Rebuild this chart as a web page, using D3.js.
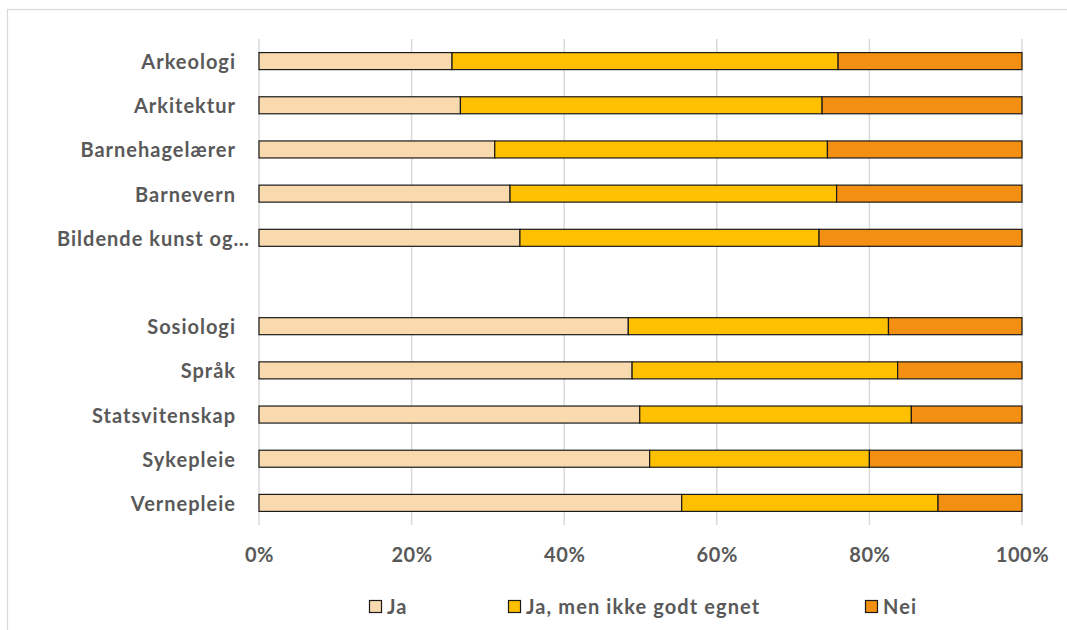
<!DOCTYPE html>
<html>
<head>
<meta charset="utf-8">
<script src="https://cdn.jsdelivr.net/npm/d3@7"></script>
<style>
  html, body { margin: 0; padding: 0; background: #fff; }
  svg { display: block; }
  text { font-family: Lato, "Open Sans", sans-serif; font-weight: 700; fill: #595959; }
</style>
</head>
<body>
<svg id="chart" width="1067" height="630"></svg>
<script>
// Data (percent), "" is the visual gap between groups
const categories = ["Arkeologi", "Arkitektur", "Barnehagelærer", "Barnevern", "Bildende kunst og…", "", "Sosiologi", "Språk", "Statsvitenskap", "Sykepleie", "Vernepleie"];
const seriesNames = ["Ja", "Ja, men ikke godt egnet", "Nei"];
const ja    = [25.3, 26.4, 30.9, 32.9, 34.2, null, 48.4, 48.9, 49.9, 51.2, 55.4];
const jaMen = [50.6, 47.4, 43.6, 42.8, 39.2, null, 34.1, 34.8, 35.6, 28.8, 33.6];
const nei   = [24.1, 26.2, 25.5, 24.3, 26.6, null, 17.5, 16.3, 14.5, 20.0, 11.0];
const xTicks = [0, 20, 40, 60, 80, 100];
const colors = ["#F9DAAE", "#FFC000", "#F38F12"];

const svg = d3.select("#chart");
const mLeft = 259, mRight = 1022, mTop = 39, mBottom = 525;

// chart frame (extends beyond canvas on right/bottom)
svg.append("rect").attr("x", 7.5).attr("y", 9.5).attr("width", 1100).attr("height", 700)
  .attr("fill", "none").attr("stroke", "#d9d9d9").attr("stroke-width", 1.2);

const keys = categories.map((c, i) => "k" + i);
const x = d3.scaleLinear().domain([0, 100]).range([mLeft, mRight]);
const y = d3.scaleBand().domain(keys).range([mTop, mBottom]).paddingInner(0.615).paddingOuter(0.3075);

// gridlines
svg.append("g").selectAll("line").data(xTicks).join("line")
  .attr("x1", d => x(d)).attr("x2", d => x(d))
  .attr("y1", mTop).attr("y2", mBottom)
  .attr("stroke", "#d9d9d9").attr("stroke-width", 1.5);

// x axis labels
const xAxis = d3.axisBottom(x).tickValues(xTicks).tickSize(0).tickPadding(0).tickFormat(d => d + "%");
const gx = svg.append("g").attr("transform", `translate(0,${mBottom + 23})`).call(xAxis);
gx.select(".domain").remove();
gx.selectAll("text").attr("font-size", 20).attr("dy", "0.71em").attr("fill", "#595959")
  .style("font-family", "Lato, sans-serif").style("font-weight", 700).style("letter-spacing", "0.6px");

// y axis labels
const yAxis = d3.axisLeft(y).tickSize(0).tickPadding(0).tickFormat((k, i) => categories[i]);
const gy = svg.append("g").attr("transform", `translate(${mLeft - 23},0)`).call(yAxis);
gy.select(".domain").remove();
gy.selectAll("text").attr("font-size", 20).attr("fill", "#595959").attr("dy", "0.4em")
  .style("font-family", "Lato, sans-serif").style("font-weight", 700).style("letter-spacing", "1px")
  .attr("x", (k, i) => categories[i].endsWith("…") ? 14 : 0);

// stacked bars
const rows = categories.map((c, i) => ({ key: keys[i], ja: ja[i], jaMen: jaMen[i], nei: nei[i] }))
  .filter(r => r.ja !== null);
const stack = d3.stack().keys(["ja", "jaMen", "nei"]);
const stacked = stack(rows);
svg.append("g").selectAll("g").data(stacked).join("g")
  .attr("fill", (d, i) => colors[i])
  .selectAll("rect").data(d => d).join("rect")
  .attr("x", d => x(d[0])).attr("width", d => x(d[1]) - x(d[0]))
  .attr("y", d => y(d.data.key)).attr("height", y.bandwidth())
  .attr("stroke", "#1a1a1a").attr("stroke-width", 1.2);

// legend
const legendX = [369, 508, 865];
const lg = svg.append("g").selectAll("g").data(seriesNames).join("g")
  .attr("transform", (d, i) => `translate(${legendX[i]},600)`);
lg.append("rect").attr("x", 0.5).attr("y", 0.5).attr("width", 12).attr("height", 12)
  .attr("fill", (d, i) => colors[i]).attr("stroke", "#1a1a1a").attr("stroke-width", 1.2);
lg.append("text").attr("x", 18).attr("y", 6.5).attr("dy", "0.38em").attr("font-size", 20)
  .style("letter-spacing", "1.1px").text(d => d);
</script>
</body>
</html>
